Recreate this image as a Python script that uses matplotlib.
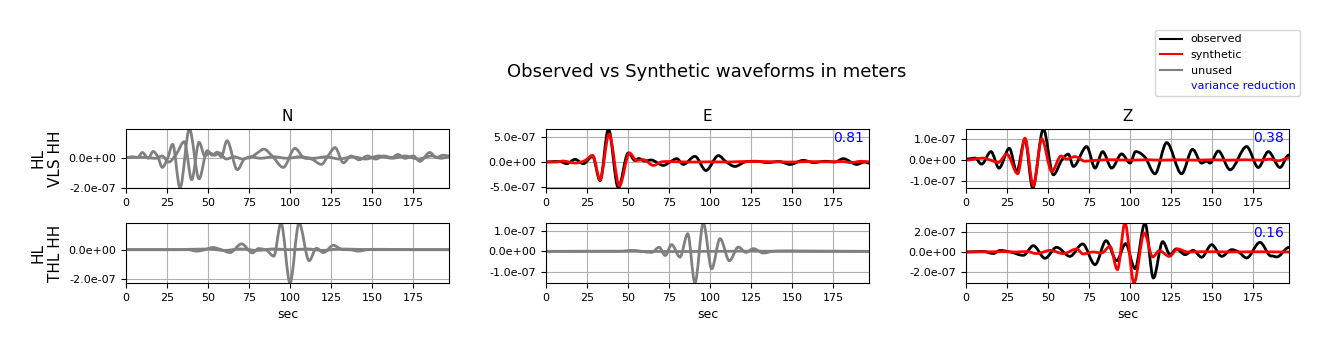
import matplotlib
matplotlib.use("Agg")
import matplotlib.pyplot as plt
from matplotlib.lines import Line2D
from matplotlib.path import Path
from matplotlib.patches import PathPatch
from matplotlib.ticker import FormatStrFormatter

SCALE = 1e-7  # values below are in units of 1e-7 m
XMAX = 196.7

stations = ["HL\nVLS HH", "HL\nTHL HH"]
components = ["N", "E", "Z"]

# ---- station VLS (turning points of each trace: time in s, value in 1e-7 m) ----
vls_n_obs_t = [0, 4, 7, 10, 13.5, 16.6, 19.5, 22.1, 25.5, 28.4, 32.9, 38.6, 44.5, 49.5, 52.5, 55.5, 58, 61.5, 67.8, 72,
               76, 80, 84, 89, 95.8, 102.9, 108, 113, 119, 123, 127.3, 132.4, 137, 142, 147, 152, 157, 162, 165.5, 170,
               175, 179, 185, 189, 193, 196.7]
vls_n_obs_v = [0, 0.05, 0.0, 0.33, -0.05, 0.4, 0.0, -0.65, 0.0, 0.87, -2.0, 1.87, -1.4, 0.45, 0.15, 0.35, 0.05, 1.1, -0.8, -0.1,
               0.0, 0.3, 0.55, 0.1, -0.65, 0.6, 0.0, -0.1, -0.45, 0.1, 0.65, -0.35, 0.1, -0.15, 0.1, -0.1, 0.1, 0.0, 0.2, -0.05,
               0.1, -0.25, 0.33, 0.0, 0.15, 0.1]
vls_n_syn_t = [0, 10, 18, 22, 26, 30.5, 35.5, 40, 44.5, 48, 51, 54, 57, 61, 66, 71, 76, 82, 90, 98,
               106, 114, 122, 130, 138, 146, 154, 162, 170, 178, 186, 192, 196.7]
vls_n_syn_v = [0, 0.02, -0.05, 0.1, -0.3, 0.2, 1.04, -1.46, 1.0, 0.1, 0.3, 0.15, 0.3, -0.1, 0.05, -0.1, 0.05, -0.05, 0.05, -0.05,
               0.05, -0.05, 0.05, -0.1, 0.05, -0.1, 0.1, -0.05, 0.1, -0.1, 0.1, -0.05, 0.05]

vls_e_obs_t = [0, 5, 8.5, 12.6, 17.7, 22.7, 28.4, 32.9, 38.0, 44.0, 50.1, 54.2, 56.5, 60, 64, 71.5, 75.5, 79.6, 83.6, 90.7,
               97.4, 105, 109.5, 115.1, 121, 128, 135, 142, 148.6, 156.7, 163, 170, 176, 181, 189.2, 194, 196.7]
vls_e_obs_v = [0, 0.1, 0.1, -0.33, 0.53, -0.33, 1.1, -3.7, 6.5, -5.1, 1.8, 0.3, 0.7, 0.2, 0.4, -0.67, 0.0, 0.67, -0.47, 1.13,
               -1.67, 1.27, 0.1, -0.87, 0.0, 0.15, -0.1, 0.1, -0.47, 0.33, -0.1, 0.15, 0.0, 0.67, -0.47, 0.0, -0.2]
vls_e_syn_t = [0, 6, 10.6, 14, 17.7, 23.8, 28.4, 32.9, 38.4, 44.7, 50.8, 55.2, 59.3, 65.4, 70, 73.5, 80, 90, 100, 110,
               120, 130, 140, 150, 160, 170, 180, 186, 192, 196.7]
vls_e_syn_v = [0, 0.0, 0.2, 0.0, -0.2, 0.3, 1.33, -3.5, 5.5, -4.7, 1.8, 0.3, 0.47, -0.67, 0.0, 0.1, 0.05, 0.0, 0.05, 0.0,
               0.1, 0.1, 0.05, 0.0, 0.1, 0.05, 0.1, -0.1, 0.15, 0.05]

vls_z_obs_t = [0, 5.5, 9.5, 15.2, 20.1, 26.4, 30.9, 35.9, 40.6, 47.1, 53.2, 58.3, 62.3, 65.4, 73.5, 78.6, 83.2, 88.7, 94.8, 99.9,
               103.3, 109, 115.1, 122.2, 131.3, 138, 143.5, 146.6, 148.6, 153.7, 160.8, 170.9, 178, 184.1, 191.2, 195.7, 196.7]
vls_z_obs_v = [0.05, 0.1, -0.19, 0.41, -0.38, 0.57, -0.54, 1.0, -1.33, 1.49, -0.7, 0.0, 0.29, -0.3, 0.65, -0.38, 0.41, -0.38, 0.3, -0.14,
               0.41, 0.14, -0.65, 0.84, -0.65, 0.52, -0.14, -0.05, -0.14, 0.44, -0.46, 0.65, -0.35, 0.41, -0.35, 0.2, 0.25]
vls_z_syn_t = [0, 5, 10.6, 15, 19.7, 24.8, 31.5, 35.9, 41.0, 46.1, 52.2, 57.9, 61.3, 66.4, 72.5, 80, 90, 100, 110, 120,
               130, 140, 150, 160, 170, 180, 185, 190, 196.7]
vls_z_syn_v = [0, 0.05, 0.1, 0.0, -0.11, 0.29, -0.65, 1.05, -1.22, 1.02, -0.54, 0.2, 0.05, 0.17, -0.05, 0.0, 0.02, 0.0, 0.02, 0.0,
               0.02, 0.0, 0.02, 0.0, 0.02, 0.0, 0.05, -0.03, 0.1]

# ---- station THL ----
thl_n_obs_t = [0, 20, 38, 43, 48, 53, 58, 63.3, 70.4, 77, 80.6, 85.7, 90, 94.4, 99.9, 105.4, 111.5, 116, 120.2, 126.3,
               132, 136, 141.5, 147, 160, 175, 196.7]
thl_n_obs_v = [0, 0.0, 0.0, -0.1, 0.0, 0.15, 0.0, -0.2, 0.4, -0.22, 0.07, -0.05, -0.45, 1.84, -2.3, 1.84, -0.76, 0.1, -0.2, 0.3,
               0.0, 0.0, -0.1, 0.0, 0.02, 0.0, 0.0]
thl_n_syn_t = [0, 30, 50, 60, 70, 80, 90, 100, 110, 120, 130, 150, 196.7]
thl_n_syn_v = [0, 0.0, 0.05, -0.05, 0.05, -0.05, 0.05, 0.0, 0.05, -0.05, 0.05, 0.0, 0.0]

thl_e_obs_t = [0, 45, 53, 58, 64.4, 68.9, 72.6, 76.5, 81.6, 86.3, 90.7, 95.8, 100.9, 106, 111.7, 117.1, 121.8, 126.3, 132.4, 138,
               150, 196.7]
thl_e_obs_v = [0, 0.0, 0.05, 0.0, -0.05, 0.2, -0.2, 0.33, -0.28, 0.86, -1.54, 1.38, -0.85, 0.62, -0.46, 0.21, -0.05, 0.13, -0.08, 0.0,
               0.02, 0.0]
thl_e_syn_t = [0, 40, 80, 120, 160, 196.7]
thl_e_syn_v = [0, 0.01, -0.01, 0.01, 0.0, 0.0]

thl_z_obs_t = [0, 10.6, 16.7, 20.7, 27, 34.9, 41.0, 48.1, 55.2, 63.3, 71, 78.6, 85.3, 91.8, 97.2, 102.9, 109, 114.1, 119.8, 124.3,
               128, 133.4, 138.4, 143.5, 149.6, 155.7, 161.8, 166, 170.9, 179, 185.1, 187, 189.2, 195.7, 196.7]
thl_z_obs_v = [0, 0.05, -0.15, 0.15, 0.0, -0.33, 0.62, -0.62, 0.46, -0.43, 0.79, -1.25, 1.11, -0.85, 0.82, -1.64, 2.85, -2.56, 1.02, -0.26,
               0.3, -0.26, 0.16, -0.52, 0.72, -0.43, 0.23, 0.0, -0.59, 0.95, -0.36, -0.4, -0.49, 0.4, 0.45]
thl_z_syn_t = [0, 22.7, 30, 37, 43, 51.3, 59.3, 67.4, 71.4, 77.5, 82.6, 87.7, 92.2, 96.8, 102.3, 108.6, 113.7, 117.7, 123.8, 128.9,
               135, 145, 160, 175, 196.7]
thl_z_syn_v = [0, 0.03, 0.0, 0.05, -0.16, 0.16, -0.16, 0.3, -0.2, 0.0, -0.1, 0.56, -1.74, 2.85, -3.05, 1.87, -0.49, 0.13, -0.43, 0.3,
               0.0, 0.03, 0.0, 0.02, 0.0]

# panel settings
used = [[False, True, True], [False, False, True]]
variance_reduction = [[None, "0.81", "0.38"], [None, None, "0.16"]]
ylims = [[(-2.0, 1.87), (-5.13, 6.53), (-1.33, 1.49)],
         [(-2.3, 1.84), (-1.54, 1.38), (-3.05, 2.85)]]
yticks = [[[-2, 0], [-5, 0, 5], [-1, 0, 1]],
          [[-2, 0], [-1, 0, 1], [-2, 0, 2]]]

traces = [
    [((vls_n_obs_t, vls_n_obs_v), (vls_n_syn_t, vls_n_syn_v)),
     ((vls_e_obs_t, vls_e_obs_v), (vls_e_syn_t, vls_e_syn_v)),
     ((vls_z_obs_t, vls_z_obs_v), (vls_z_syn_t, vls_z_syn_v))],
    [((thl_n_obs_t, thl_n_obs_v), (thl_n_syn_t, thl_n_syn_v)),
     ((thl_e_obs_t, thl_e_obs_v), (thl_e_syn_t, thl_e_syn_v)),
     ((thl_z_obs_t, thl_z_obs_v), (thl_z_syn_t, thl_z_syn_v))],
]


def smooth_trace(ax, t, v, color):
    """Draw the trace as a smooth curve (monotone cubic Bezier) through its turning points."""
    y = [val * SCALE for val in v]
    n = len(t)
    slopes = []
    for i in range(n):
        if i == 0 or i == n - 1:
            slopes.append(0.0)
            continue
        s1 = (y[i] - y[i - 1]) / (t[i] - t[i - 1])
        s2 = (y[i + 1] - y[i]) / (t[i + 1] - t[i])
        slopes.append(0.0 if s1 * s2 <= 0 else 0.5 * (s1 + s2))
    verts = [(t[0], y[0])]
    codes = [Path.MOVETO]
    for i in range(1, n):
        dt = t[i] - t[i - 1]
        verts += [(t[i - 1] + dt / 3, y[i - 1] + slopes[i - 1] * dt / 3),
                  (t[i] - dt / 3, y[i] - slopes[i] * dt / 3),
                  (t[i], y[i])]
        codes += [Path.CURVE4] * 3
    patch = PathPatch(Path(verts, codes), facecolor="none", edgecolor=color,
                      lw=2, capstyle="round", joinstyle="round")
    ax.add_patch(patch)


W, H = 1329, 351
fig = plt.figure(figsize=(W / 100, H / 100), dpi=100)

lefts = [126, 546, 966]
axw = 323
rows = [(129, 188), (223, 283)]

for r in range(2):
    for c in range(3):
        top, bot = rows[r]
        ax = fig.add_axes([lefts[c] / W, 1 - bot / H, axw / W, (bot - top) / H])
        (ot, ov), (st, sv) = traces[r][c]
        if used[r][c]:
            smooth_trace(ax, ot, ov, "black")
            smooth_trace(ax, st, sv, "red")
        else:
            smooth_trace(ax, ot, ov, "gray")
            smooth_trace(ax, st, sv, "gray")
        ax.set_xlim(0, XMAX)
        lo, hi = ylims[r][c]
        ax.set_ylim(lo * SCALE, hi * SCALE)
        ax.set_yticks([val * SCALE for val in yticks[r][c]])
        ax.set_xticks([0, 25, 50, 75, 100, 125, 150, 175])
        ax.yaxis.set_major_formatter(FormatStrFormatter("%.1e"))
        ax.tick_params(labelsize=8)
        ax.grid(True)
        ax.set_axisbelow(True)
        if r == 0:
            ax.set_title(components[c], fontsize=11)
        if r == 1:
            ax.set_xlabel("sec", fontsize=9)
        if c == 0:
            ax.set_ylabel(stations[r], fontsize=11)
        if variance_reduction[r][c] is not None:
            ax.text(0.985, 0.84, variance_reduction[r][c], transform=ax.transAxes,
                    ha="right", va="center", color="blue", fontsize=10)

fig.text(707 / W, 1 - 72 / H, "Observed vs Synthetic waveforms in meters",
         ha="center", va="center", fontsize=13)

handles = [Line2D([], [], color="black"), Line2D([], [], color="red"),
           Line2D([], [], color="gray"), Line2D([], [], color="none")]
labels = ["observed", "synthetic", "unused", "variance reduction"]
leg = fig.legend(handles, labels, loc="upper right",
                 bbox_to_anchor=(1305.5 / W, 1 - 24.5 / H), fontsize=8)
leg.get_texts()[3].set_color("blue")

fig.savefig("out.png", dpi=100)
